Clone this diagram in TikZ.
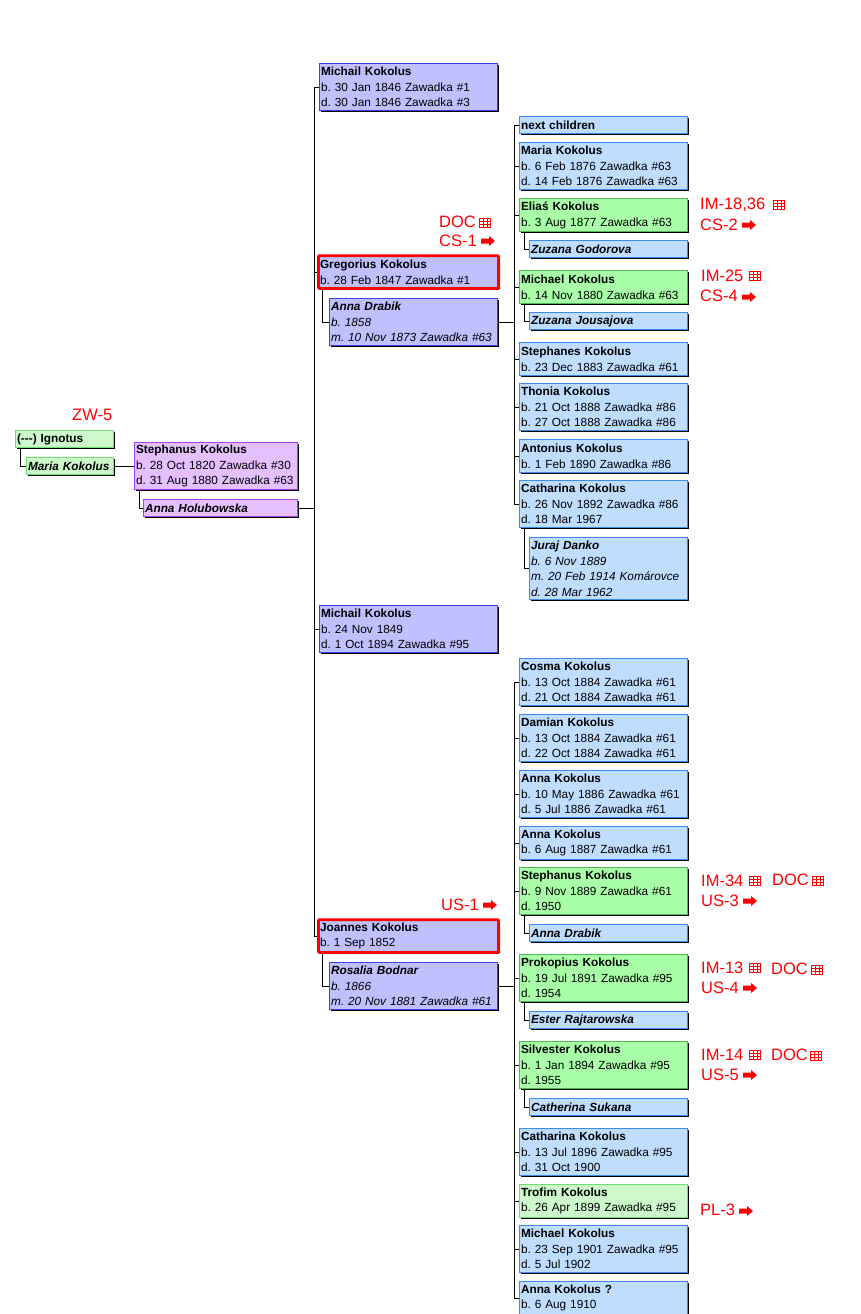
\documentclass[tikz,border=0pt]{standalone}
\usepackage{fontspec}
\setmainfont{Liberation Sans}
\usetikzlibrary{
  shadows
}
\definecolor{bluefill}{HTML}{BFDDFF}
\definecolor{blueline}{HTML}{3C8CF0}
\definecolor{greenfill}{HTML}{A8FFA8}
\definecolor{greenline}{HTML}{50B850}
\definecolor{palefill}{HTML}{CCF8CC}
\definecolor{paleline}{HTML}{70E070}
\definecolor{lilacfill}{HTML}{C0C0FF}
\definecolor{lilacline}{HTML}{4040E0}
\definecolor{purplefill}{HTML}{E5C0FF}
\definecolor{purpleline}{HTML}{A040F0}
\tikzset{
    person/.style={
        anchor=north west, rectangle, draw, line width=0.9pt, align=left,
        inner xsep=1.5pt, inner ysep=0pt, text=black, xshift=-0.9pt, yshift=-0.3pt,
        font=\fontsize{11.8}{15.5}\selectfont\frenchspacing,
        drop shadow={shadow xshift=1.5pt, shadow yshift=-1.2pt, fill=black, opacity=1}
    },
    wd/.style={text width=#1pt-3pt, minimum width=#1pt-0.8pt},
    l1/.style={minimum height=16.8pt},
    l2/.style={minimum height=32.8pt},
    l3/.style={minimum height=46.8pt},
    l4/.style={minimum height=61.8pt},
    bluebox/.style={person, fill=bluefill, draw=blueline, wd=168},
    bluespouse/.style={person, fill=bluefill, draw=blueline, wd=158},
    greenbox/.style={person, fill=greenfill, draw=greenline, wd=168},
    palebox/.style={person, fill=palefill, draw=paleline},
    lilacbox/.style={person, fill=lilacfill, draw=lilacline, wd=178},
    keybox/.style={person, fill=lilacfill, draw=red, line width=2.8pt, rounded corners=1pt, wd=180},
    lilacspouse/.style={person, fill=lilacfill, draw=lilacline, wd=168},
    purplebox/.style={person, fill=purplefill, draw=purpleline},
    reflabel/.style={anchor=west, inner sep=0pt, text=red, font=\fontsize{16.5}{18}\selectfont},
    link/.style={line width=0.9pt, black},
    tblicon/.pic={
        \draw[red, line width=0.7pt] (-5.5,-4.5) rectangle (5.5,4.5);
        \draw[red, line width=0.7pt] (-5.5,-1.5) -- (5.5,-1.5) (-5.5,1.5) -- (5.5,1.5)
            (-2,-4.5) -- (-2,4.5) (2,-4.5) -- (2,4.5);
    },
    goarrow/.pic={
        \fill[red] (-7,-2.5) -- (1,-2.5) -- (1,-5) -- (7,0) -- (1,5) -- (1,2.5) -- (-7,2.5) -- cycle;
    }
}
\begin{document}
\begin{tikzpicture}[x=1pt, y=-1pt]
    \useasboundingbox[fill=white] (0,0) rectangle (860,1314);
    % Ancestors
    \node[palebox, wd=98, l1] (ignotus) at (16,430) {\textbf{(-{}-{}-) Ignotus}};
    \node[palebox, wd=87, l1] (maria) at (27,457) {\textbf{\textit{Maria Kokolus}}};
    \node[purplebox, wd=163, l3] (stephanus) at (135,442) {\textbf{Stephanus Kokolus}\\b. 28 Oct 1820 Zawadka \#30\\d. 31 Aug 1880 Zawadka \#63};
    \node[purplebox, wd=154, l1] (holubowska) at (144,499) {\textbf{\textit{Anna Holubowska}}};
    % Sons
    \node[lilacbox, l3] (michailA) at (320,63) {\textbf{Michail Kokolus}\\b. 30 Jan 1846 Zawadka \#1\\d. 30 Jan 1846 Zawadka \#3};
    \node[keybox, l2] (gregorius) at (318,254) {\textbf{Gregorius Kokolus}\\b. 28 Feb 1847 Zawadka \#1};
    \node[lilacspouse, l3] (drabikA) at (330,298) {\textbf{\textit{Anna Drabik}}\\\textit{b. 1858}\\\textit{m. 10 Nov 1873 Zawadka \#63}};
    \node[lilacbox, l3] (michailB) at (320,605) {\textbf{Michail Kokolus}\\b. 24 Nov 1849\\d. 1 Oct 1894 Zawadka \#95};
    \node[keybox, l2] (joannes) at (318,918) {\textbf{Joannes Kokolus}\\b. 1 Sep 1852};
    \node[lilacspouse, l3] (bodnar) at (330,962) {\textbf{\textit{Rosalia Bodnar}}\\\textit{b. 1866}\\\textit{m. 20 Nov 1881 Zawadka \#61}};
    % Children of Gregorius
    \node[bluebox, l1] (next) at (520,116) {\textbf{next children}};
    \node[bluebox, l3] (mariaK) at (520,142) {\textbf{Maria Kokolus}\\b. 6 Feb 1876 Zawadka \#63\\d. 14 Feb 1876 Zawadka \#63};
    \node[greenbox, l2] (elias) at (520,198) {\textbf{Eliaś Kokolus}\\b. 3 Aug 1877 Zawadka \#63};
    \node[bluespouse, l1] (godorova) at (530,240) {\textbf{\textit{Zuzana Godorova}}};
    \node[greenbox, l2] (michaelA) at (520,270) {\textbf{Michael Kokolus}\\b. 14 Nov 1880 Zawadka \#63};
    \node[bluespouse, l1] (jousajova) at (530,312) {\textbf{\textit{Zuzana Jousajova}}};
    \node[bluebox, l2] (stephanes) at (520,342) {\textbf{Stephanes Kokolus}\\b. 23 Dec 1883 Zawadka \#61};
    \node[bluebox, l3] (thonia) at (520,383) {\textbf{Thonia Kokolus}\\b. 21 Oct 1888 Zawadka \#86\\b. 27 Oct 1888 Zawadka \#86};
    \node[bluebox, l2] (antonius) at (520,439) {\textbf{Antonius Kokolus}\\b. 1 Feb 1890 Zawadka \#86};
    \node[bluebox, l3] (catharinaA) at (520,480) {\textbf{Catharina Kokolus}\\b. 26 Nov 1892 Zawadka \#86\\d. 18 Mar 1967};
    \node[bluespouse, l4] (danko) at (530,537) {\textbf{\textit{Juraj Danko}}\\\textit{b. 6 Nov 1889}\\\textit{m. 20 Feb 1914 Komárovce}\\\textit{d. 28 Mar 1962}};
    % Children of Joannes
    \node[bluebox, l3] (cosma) at (520,658) {\textbf{Cosma Kokolus}\\b. 13 Oct 1884 Zawadka \#61\\d. 21 Oct 1884 Zawadka \#61};
    \node[bluebox, l3] (damian) at (520,714) {\textbf{Damian Kokolus}\\b. 13 Oct 1884 Zawadka \#61\\d. 22 Oct 1884 Zawadka \#61};
    \node[bluebox, l3] (annaA) at (520,770) {\textbf{Anna Kokolus}\\b. 10 May 1886 Zawadka \#61\\d. 5 Jul 1886 Zawadka \#61};
    \node[bluebox, l2] (annaB) at (520,826) {\textbf{Anna Kokolus}\\b. 6 Aug 1887 Zawadka \#61};
    \node[greenbox, l3] (stephanusB) at (520,867) {\textbf{Stephanus Kokolus}\\b. 9 Nov 1889 Zawadka \#61\\d. 1950};
    \node[bluespouse, l1] (drabikB) at (530,924) {\textbf{\textit{Anna Drabik}}};
    \node[greenbox, l3] (prokopius) at (520,954) {\textbf{Prokopius Kokolus}\\b. 19 Jul 1891 Zawadka \#95\\d. 1954};
    \node[bluespouse, l1] (rajtarowska) at (530,1011) {\textbf{\textit{Ester Rajtarowska}}};
    \node[greenbox, l3] (silvester) at (520,1041) {\textbf{Silvester Kokolus}\\b. 1 Jan 1894 Zawadka \#95\\d. 1955};
    \node[bluespouse, l1] (sukana) at (530,1098) {\textbf{\textit{Catherina Sukana}}};
    \node[bluebox, l3] (catharinaB) at (520,1128) {\textbf{Catharina Kokolus}\\b. 13 Jul 1896 Zawadka \#95\\d. 31 Oct 1900};
    \node[palebox, wd=168, l2] (trofim) at (520,1184) {\textbf{Trofim Kokolus}\\b. 26 Apr 1899 Zawadka \#95};
    \node[bluebox, l3] (michaelB) at (520,1225) {\textbf{Michael Kokolus}\\b. 23 Sep 1901 Zawadka \#95\\d. 5 Jul 1902};
    \node[bluebox, l2] (annaC) at (520,1281) {\textbf{Anna Kokolus ?}\\b. 6 Aug 1910};
    % Buses
    \coordinate (mainbus) at (314,0);
    \coordinate (busA) at (514,0);
    \draw[link] (mainbus |- michailA.west) -- (mainbus |- joannes.west);
    \draw[link] (busA |- next.west) -- (busA |- catharinaA.west);
    \draw[link] (busA |- cosma.west) -- (busA |- annaC.west);
    \foreach \n in {michailA, gregorius, michailB, joannes} {
        \draw[link] (mainbus |- \n.west) -- (\n.west);
    }
    \foreach \n in {next, mariaK, elias, michaelA, stephanes, thonia, antonius, catharinaA,
                    cosma, damian, annaA, annaB, stephanusB, prokopius, silvester,
                    catharinaB, trofim, michaelB, annaC} {
        \draw[link] (busA |- \n.west) -- (\n.west);
    }
    % Couples
    \foreach \a/\b in {ignotus/maria, stephanus/holubowska, gregorius/drabikA, joannes/bodnar,
                       elias/godorova, michaelA/jousajova, catharinaA/danko,
                       stephanusB/drabikB, prokopius/rajtarowska, silvester/sukana} {
        \draw[link] ([xshift=5pt]\a.south west) |- (\b.west);
    }
    \draw[link] (maria.east) -- (maria.east -| stephanus.west);
    \draw[link] (holubowska.east) -- (holubowska.east -| mainbus);
    \draw[link] (drabikA.east) -- (drabikA.east -| busA);
    \draw[link] (bodnar.east) -- (bodnar.east -| busA);
    % Red references
    \foreach \x/\y/\txt [count=\i] in {72/415/ZW-5, 439/222/DOC, 439/241/CS-1, 700/205/{IM-18,36},
            700/225/CS-2, 701/276/IM-25, 700/296/CS-4, 441/905/US-1,
            701/881/IM-34, 772/880/DOC, 701/901/US-3, 701/968/IM-13, 771/969/DOC,
            701/988/US-4, 701/1055/IM-14, 771/1055/DOC, 701/1075/US-5, 700/1210/PL-3} {
        \node[reflabel] (ref\i) at (\x,\y) {\txt};
    }
    \foreach \x/\y in {485/223, 779/205, 755/276, 755/881, 818/881, 755/968, 817/970, 755/1055, 816/1056} {
        \pic at (\x,\y) {tblicon};
    }
    \foreach \x/\y in {488/241, 749/225, 749/297, 490/905, 750/901, 750/988, 750/1075, 746/1211} {
        \pic at (\x,\y) {goarrow};
    }
\end{tikzpicture}
\end{document}
